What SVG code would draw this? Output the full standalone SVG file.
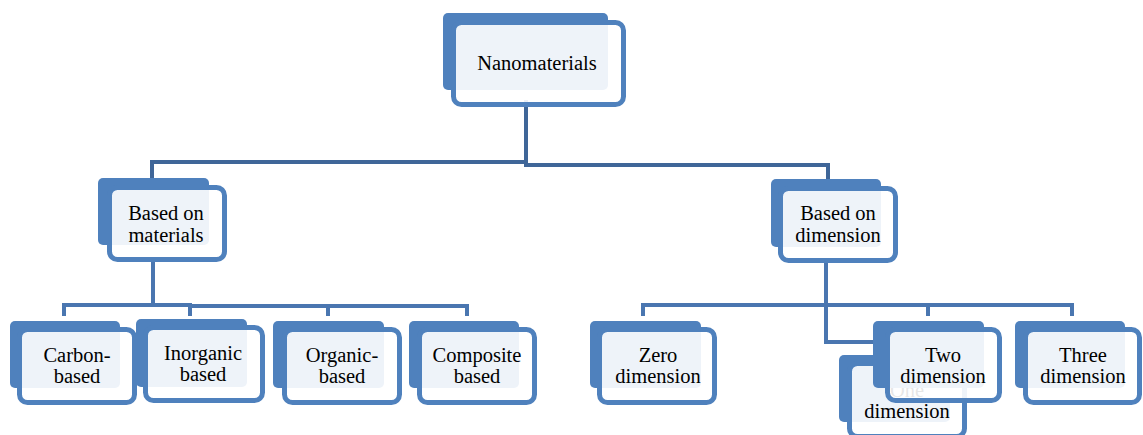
<svg xmlns="http://www.w3.org/2000/svg" width="1143" height="435" viewBox="0 0 1143 435">
<style>
.bg{fill:#ffffff}
.back{fill:#4F81BD}
.front{fill:#ffffff;fill-opacity:0.9;stroke:#4F81BD;stroke-width:5}
.t{font-family:"Liberation Serif","Times New Roman",serif;font-size:20.5px;fill:#000;text-anchor:middle}
.c1{fill:none;stroke:#3F6698;stroke-width:4}
.c2{fill:none;stroke:#4A76B0;stroke-width:4}
</style>
<rect class="bg" x="0" y="0" width="1143" height="435"/>
<g id="connectors">
<path class="c1" d="M526,100 V164"/>
<path class="c1" d="M152,182 V162 H528"/>
<path class="c1" d="M524,165 H828 V183"/>
<path class="c2" d="M153,258 V306"/>
<path class="c2" d="M64,316 V305 H192"/>
<path class="c2" d="M190,316 V306 H467 V316"/>
<path class="c2" d="M328,306 V316"/>
<path class="c2" d="M826,258 V342 H880"/>
<path class="c2" d="M643,316 V305 H1072 V316"/>
<path class="c2" d="M928,305 V316"/>
</g>
<g id="n-nano">
<rect class="back" x="443" y="13" width="165" height="77" rx="5"/>
<rect class="front" x="453.5" y="22.5" width="170" height="82" rx="8"/>
<text class="t" x="537" y="70">Nanomaterials</text>
</g>
<g id="n-materials">
<rect class="back" x="98" y="178" width="111" height="67" rx="5"/>
<rect class="front" x="109.5" y="187.5" width="115" height="72" rx="8"/>
<text class="t" x="166" y="220">Based on</text>
<text class="t" x="166" y="242">materials</text>
</g>
<g id="n-dimension">
<rect class="back" x="771" y="179" width="110" height="68" rx="5"/>
<rect class="front" x="780.5" y="188.5" width="115" height="72" rx="8"/>
<text class="t" x="838" y="220">Based on</text>
<text class="t" x="838" y="242">dimension</text>
</g>
<g id="n-carbon">
<rect class="back" x="10" y="321" width="110" height="67" rx="5"/>
<rect class="front" x="19.5" y="329.5" width="115" height="73" rx="8"/>
<text class="t" x="77" y="362">Carbon-</text>
<text class="t" x="77" y="383">based</text>
</g>
<g id="n-inorganic">
<rect class="back" x="136" y="319" width="111" height="68" rx="5"/>
<rect class="front" x="145.5" y="327.5" width="117" height="73" rx="8"/>
<text class="t" x="203" y="360">Inorganic</text>
<text class="t" x="203" y="381">based</text>
</g>
<g id="n-organic">
<rect class="back" x="273" y="321" width="111" height="67" rx="5"/>
<rect class="front" x="284.5" y="329.5" width="115" height="73" rx="8"/>
<text class="t" x="342" y="362">Organic-</text>
<text class="t" x="342" y="383">based</text>
</g>
<g id="n-composite">
<rect class="back" x="409" y="321" width="110" height="67" rx="5"/>
<rect class="front" x="419.5" y="329.5" width="115" height="73" rx="8"/>
<text class="t" x="477" y="362">Composite</text>
<text class="t" x="477" y="383">based</text>
</g>
<g id="n-zero">
<rect class="back" x="590" y="321" width="111" height="67" rx="5"/>
<rect class="front" x="599.5" y="329.5" width="115" height="73" rx="8"/>
<text class="t" x="658" y="362">Zero</text>
<text class="t" x="658" y="383">dimension</text>
</g>
<g id="n-one">
<rect class="back" x="839" y="355" width="111" height="67" rx="5"/>
<rect class="front" x="849.5" y="363.5" width="115" height="73" rx="8"/>
<text class="t" x="907" y="397">One</text>
<text class="t" x="907" y="418">dimension</text>
</g>
<g id="n-two">
<rect class="back" x="873" y="321" width="111" height="67" rx="5"/>
<rect class="front" x="887.5" y="329.5" width="112" height="71" rx="8"/>
<text class="t" x="943" y="362">Two</text>
<text class="t" x="943" y="383">dimension</text>
</g>
<g id="n-three">
<rect class="back" x="1015" y="321" width="110" height="67" rx="5"/>
<rect class="front" x="1025.5" y="329.5" width="114" height="73" rx="8"/>
<text class="t" x="1083" y="362">Three</text>
<text class="t" x="1083" y="383">dimension</text>
</g>
</svg>
